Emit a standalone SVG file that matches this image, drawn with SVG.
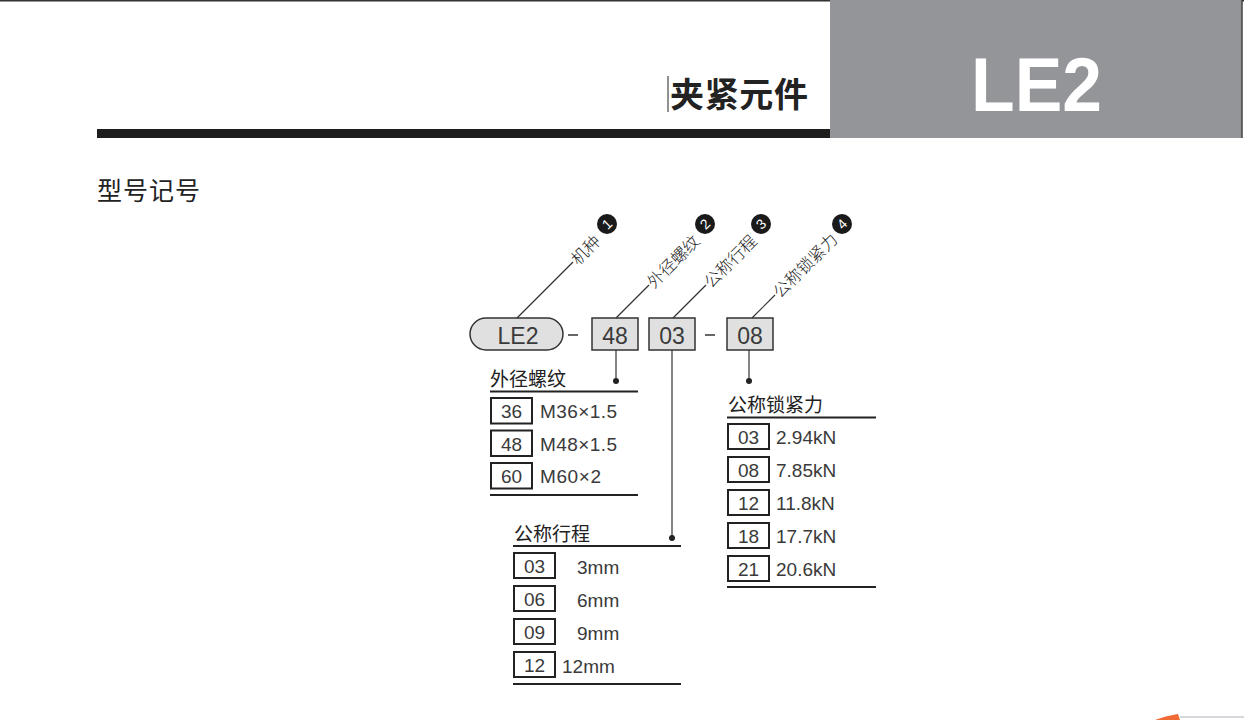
<svg xmlns="http://www.w3.org/2000/svg" width="1244" height="720" viewBox="0 0 1244 720">
<style>
.cjk{font-family:"Noto Sans CJK SC","Noto Sans",sans-serif;fill:#222}
.lbl{font-family:"Noto Sans CJK SC","Noto Sans",sans-serif;fill:#222;font-size:16.5px;font-weight:300}
.num{font-family:"Liberation Sans",Arial,sans-serif;fill:#3a3a3a}
.code{fill:#e0e0e0;stroke:#333;stroke-width:1.5}
.cell{fill:#fff;stroke:#222;stroke-width:2}
.rule{stroke:#222;stroke-width:2.2}
.conn{stroke:#333;stroke-width:1.2;fill:none}
.badge{fill:#1a1a1a}
.bnum{font-family:"Liberation Sans",Arial,sans-serif;fill:#fff;font-size:14px;text-anchor:middle}
</style>
<rect width="1244" height="720" fill="#fff"/>
<g id="header">
<line x1="0" y1="0.8" x2="1244" y2="0.8" stroke="#333" stroke-width="1.6"/>
<rect x="830" y="0" width="412" height="138" fill="#939598"/>
<line x1="1242" y1="0" x2="1242" y2="138" stroke="#444" stroke-width="1.5"/>
<rect x="97" y="129" width="733" height="9" fill="#1e1e1e"/>
<line x1="668" y1="76" x2="668" y2="112" stroke="#222" stroke-width="1"/>
<text x="670" y="107" class="cjk" font-size="34" font-weight="bold" fill="#111" textLength="138">夹紧元件</text>
<text x="971" y="111" font-family="Liberation Sans,Arial,sans-serif" font-weight="bold" font-size="76" fill="#fff" textLength="131" lengthAdjust="spacingAndGlyphs">LE2</text>
</g>
<text x="97" y="200" class="cjk" font-size="25" letter-spacing="1">型号记号</text>
<g id="code">
<rect id="n-le2" x="470" y="318" width="93" height="32" rx="16" class="code"/>
<text x="518" y="344" class="num" font-size="23" text-anchor="middle" fill="#222">LE2</text>
<line x1="568" y1="335" x2="578" y2="335" stroke="#333" stroke-width="1.5"/>
<rect x="592" y="318" width="46" height="32" class="code"/>
<text x="615" y="344" class="num" font-size="23" text-anchor="middle" fill="#222">48</text>
<rect x="649" y="318" width="46" height="32" class="code"/>
<text x="672" y="344" class="num" font-size="23" text-anchor="middle" fill="#222">03</text>
<line x1="705" y1="335" x2="715" y2="335" stroke="#333" stroke-width="1.5"/>
<rect x="727" y="318" width="46" height="32" class="code"/>
<text x="750" y="344" class="num" font-size="23" text-anchor="middle" fill="#222">08</text>
</g>
<g id="connectors">
<line x1="517" y1="318" x2="573" y2="262" class="conn"/>
<line x1="616" y1="318" x2="649" y2="285" class="conn"/>
<line x1="673" y1="318" x2="706" y2="285" class="conn"/>
<line x1="752" y1="318" x2="775" y2="295" class="conn"/>
<line x1="616" y1="350" x2="616" y2="381" class="conn"/>
<circle cx="616" cy="381" r="3" fill="#222"/>
<line x1="672" y1="350" x2="672" y2="538" class="conn"/>
<circle cx="672" cy="538" r="3" fill="#222"/>
<line x1="749" y1="350" x2="749" y2="381" class="conn"/>
<circle cx="749" cy="381" r="3" fill="#222"/>
</g>
<g id="labels">
<g transform="translate(573,262) rotate(-45)"><text x="1" y="6.5" class="lbl">机种</text></g>
<g transform="translate(649,285) rotate(-45)"><text x="1" y="6.5" class="lbl">外径螺纹</text></g>
<g transform="translate(706,285) rotate(-45)"><text x="1" y="6.5" class="lbl">公称行程</text></g>
<g transform="translate(775,295) rotate(-45)"><text x="1" y="6.5" class="lbl">公称锁紧力</text></g>
<circle cx="607" cy="224" r="10" class="badge"/>
<text transform="translate(607,224) rotate(-45)" x="0" y="5" class="bnum">1</text>
<circle cx="705" cy="224" r="10" class="badge"/>
<text transform="translate(705,224) rotate(-45)" x="0" y="5" class="bnum">2</text>
<circle cx="761" cy="224" r="10" class="badge"/>
<text transform="translate(761,224) rotate(-45)" x="0" y="5" class="bnum">3</text>
<circle cx="842" cy="224" r="10" class="badge"/>
<text transform="translate(842,224) rotate(-45)" x="0" y="5" class="bnum">4</text>
</g>
<g id="table-thread">
<text x="490" y="386" class="cjk" font-size="19">外径螺纹</text>
<line x1="490" y1="391.5" x2="638" y2="391.5" class="rule"/>
<rect x="491" y="398" width="41" height="25.5" class="cell"/>
<text x="511.5" y="418" class="num" font-size="19" text-anchor="middle">36</text>
<text x="540" y="418" class="num" font-size="19" textLength="77">M36×1.5</text>
<rect x="491" y="430.5" width="41" height="25.5" class="cell"/>
<text x="511.5" y="451" class="num" font-size="19" text-anchor="middle">48</text>
<text x="540" y="451" class="num" font-size="19" textLength="77">M48×1.5</text>
<rect x="491" y="463" width="41" height="25.5" class="cell"/>
<text x="511.5" y="483" class="num" font-size="19" text-anchor="middle">60</text>
<text x="540" y="483" class="num" font-size="19" textLength="61">M60×2</text>
<line x1="490" y1="495" x2="638" y2="495" class="rule"/>
</g>
<g id="table-stroke">
<text x="514" y="541" class="cjk" font-size="19">公称行程</text>
<line x1="513" y1="546" x2="681" y2="546" class="rule"/>
<rect x="514" y="553" width="41" height="25" class="cell"/>
<text x="534.5" y="573" class="num" font-size="19" text-anchor="middle">03</text>
<text x="577" y="574" class="num" font-size="19">3mm</text>
<rect x="514" y="586" width="41" height="25" class="cell"/>
<text x="534.5" y="606" class="num" font-size="19" text-anchor="middle">06</text>
<text x="577" y="607" class="num" font-size="19">6mm</text>
<rect x="514" y="619" width="41" height="25" class="cell"/>
<text x="534.5" y="639" class="num" font-size="19" text-anchor="middle">09</text>
<text x="577" y="640" class="num" font-size="19">9mm</text>
<rect x="514" y="652" width="41" height="25" class="cell"/>
<text x="534.5" y="672" class="num" font-size="19" text-anchor="middle">12</text>
<text x="562" y="673" class="num" font-size="19">12mm</text>
<line x1="513" y1="684" x2="681" y2="684" class="rule"/>
</g>
<g id="table-force">
<text x="728" y="412" class="cjk" font-size="19">公称锁紧力</text>
<line x1="727" y1="417.5" x2="876" y2="417.5" class="rule"/>
<rect x="728" y="424" width="41" height="25" class="cell"/>
<text x="748.5" y="444" class="num" font-size="19" text-anchor="middle">03</text>
<text x="776" y="444" class="num" font-size="19">2.94kN</text>
<rect x="728" y="457" width="41" height="25" class="cell"/>
<text x="748.5" y="477" class="num" font-size="19" text-anchor="middle">08</text>
<text x="776" y="477" class="num" font-size="19">7.85kN</text>
<rect x="728" y="490" width="41" height="25" class="cell"/>
<text x="748.5" y="510" class="num" font-size="19" text-anchor="middle">12</text>
<text x="776" y="510" class="num" font-size="19">11.8kN</text>
<rect x="728" y="523" width="41" height="25" class="cell"/>
<text x="748.5" y="543" class="num" font-size="19" text-anchor="middle">18</text>
<text x="776" y="543" class="num" font-size="19">17.7kN</text>
<rect x="728" y="556" width="41" height="25" class="cell"/>
<text x="748.5" y="576" class="num" font-size="19" text-anchor="middle">21</text>
<text x="776" y="576" class="num" font-size="19">20.6kN</text>
<line x1="727" y1="587" x2="876" y2="587" class="rule"/>
</g>
<g id="corner">
<path d="M1155,720 Q1165,716 1178,714 L1180,720 Z" fill="#f06a35"/>
<line x1="1180" y1="717" x2="1244" y2="717" stroke="#aab0b8" stroke-width="1"/>
</g>
</svg>
